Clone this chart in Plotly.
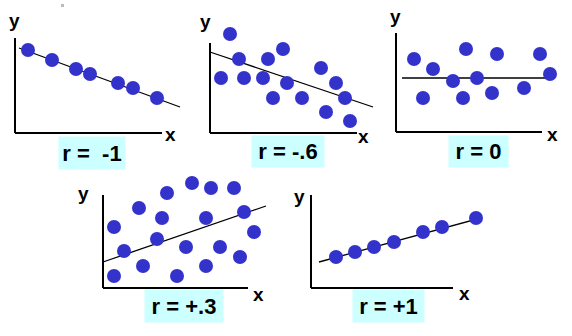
import plotly.graph_objects as go

W_FIG, H_FIG = 572, 336

# ---- data (local units: x right from axis origin, y up from axis origin) ----
p1_x = [13, 37, 61, 75, 103, 118, 142]
p1_y = [83, 73, 64, 59, 50, 45, 35]
p1_fit_x = [4, 165]
p1_fit_y = [85, 26]

p2_x = [20, 29, 58, 73, 11, 34, 53, 77, 63, 92, 111, 126, 135, 116, 140]
p2_y = [99, 74, 74, 84, 55, 55, 55, 50, 35, 35, 65, 50, 35, 21, 12]
p2_fit_x = [0, 163]
p2_fit_y = [81, 26]

p3_x = [18, 37, 70, 101, 144, 154, 57, 81, 27, 67, 96, 128]
p3_y = [73, 63, 83, 78, 78, 58, 51, 54, 34, 34, 39, 44]
p3_fit_x = [6, 149]
p3_fit_y = [54, 54]

p4_x = [89, 108, 131, 64, 36, 59, 103, 141, 11, 151, 54, 21, 83, 117, 137, 40, 103, 11, 74]
p4_y = [105, 100, 100, 95, 80, 70, 70, 76, 61, 56, 49, 37, 41, 41, 31, 22, 22, 12, 12]
p4_fit_x = [0, 163]
p4_fit_y = [26, 82]

p5_x = [25, 44, 63, 83, 112, 131, 165]
p5_y = [31, 36, 41, 46, 56, 61, 70]
p5_fit_x = [8, 177]
p5_fit_y = [26, 72]

labels = ["r =  -1", "r = -.6", "r = 0", "r = +.3", "r = +1"]

# ---- layout geometry (pixels) ----
panels = [
    dict(ox=15, oy=133, w=147, h=95, box=(92, 153, 66, 32), ylab=(14, 20), xlab=(170, 134)),
    dict(ox=210, oy=133, w=147, h=90, box=(288, 152, 72, 31), ylab=(205, 21), xlab=(363, 136)),
    dict(ox=396, oy=132, w=146, h=99, box=(478, 152, 59, 31), ylab=(395, 16), xlab=(552, 134)),
    dict(ox=103, oy=288, w=145, h=93, box=(184, 306, 78, 32), ylab=(83, 194), xlab=(258, 294)),
    dict(ox=311, oy=288, w=142, h=93, box=(388, 306, 71, 32), ylab=(299, 196), xlab=(464, 293)),
]
data = [
    (p1_x, p1_y, p1_fit_x, p1_fit_y),
    (p2_x, p2_y, p2_fit_x, p2_fit_y),
    (p3_x, p3_y, p3_fit_x, p3_fit_y),
    (p4_x, p4_y, p4_fit_x, p4_fit_y),
    (p5_x, p5_y, p5_fit_x, p5_fit_y),
]

DOT = "#3333cc"
BOX = "#ccffff"
PAD = 25  # extra pixels of plotting area around each panel so dots near edges are drawn
FONT = "Liberation Sans Narrow, Arial Narrow, Liberation Sans, Arial"


def fx(px):
    return px / W_FIG


def fy(py):
    return 1 - py / H_FIG


fig = go.Figure()
layout = dict(
    width=W_FIG, height=H_FIG, margin=dict(l=0, r=0, t=0, b=0),
    paper_bgcolor="white", plot_bgcolor="rgba(0,0,0,0)", showlegend=False,
    annotations=[], shapes=[],
)

for i, (pn, (xs, ys, lx, ly)) in enumerate(zip(panels, data)):
    n = "" if i == 0 else str(i + 1)
    xa, ya = "x" + n, "y" + n
    ox, oy, w, h = pn["ox"], pn["oy"], pn["w"], pn["h"]
    x0p, x1p = max(ox - PAD, 0), min(ox + w + PAD, W_FIG)
    y0p, y1p = min(oy + PAD, H_FIG), max(oy - h - PAD, 0)
    layout["xaxis" + n] = dict(
        domain=[fx(x0p), fx(x1p)], range=[x0p - ox, x1p - ox],
        anchor=ya, visible=False, fixedrange=True,
    )
    layout["yaxis" + n] = dict(
        domain=[fy(y0p), fy(y1p)], range=[oy - y0p, oy - y1p],
        anchor=xa, visible=False, fixedrange=True,
    )
    # axis lines
    for (ax0, ay0, ax1, ay1) in ((0, 0, w, 0), (0, 0, 0, h)):
        layout["shapes"].append(dict(
            type="line", xref=xa, yref=ya, x0=ax0, y0=ay0, x1=ax1, y1=ay1,
            line=dict(color="black", width=2), layer="below",
        ))
    fig.add_trace(go.Scatter(
        x=lx, y=ly, xaxis=xa, yaxis=ya, mode="lines",
        line=dict(color="black", width=1.3), cliponaxis=False, hoverinfo="skip",
    ))
    fig.add_trace(go.Scatter(
        x=xs, y=ys, xaxis=xa, yaxis=ya, mode="markers",
        marker=dict(color=DOT, size=14, line=dict(width=0)), cliponaxis=False,
    ))
    bx, by, bw, bh = pn["box"]
    layout["annotations"].append(dict(
        xref="paper", yref="paper", x=fx(bx), y=fy(by), xanchor="center", yanchor="middle",
        text="<b>%s</b>" % labels[i], showarrow=False, bgcolor=BOX, width=bw, height=bh,
        borderpad=0, font=dict(family=FONT, size=22, color="black"),
    ))
    for t, (tx, ty) in (("y", pn["ylab"]), ("x", pn["xlab"])):
        layout["annotations"].append(dict(
            xref="paper", yref="paper", x=fx(tx), y=fy(ty), xanchor="center", yanchor="middle",
            text="<b>%s</b>" % t, showarrow=False,
            font=dict(family="Liberation Sans, Arial", size=19, color="black"),
        ))

# tiny grey speck near the top of the first panel
layout["shapes"].append(dict(
    type="rect", xref="paper", yref="paper", x0=fx(61), x1=fx(64), y0=fy(7), y1=fy(4),
    fillcolor="#bbbbbb", line=dict(width=0),
))

fig.update_layout(**layout)
fig.write_html("out.html")
